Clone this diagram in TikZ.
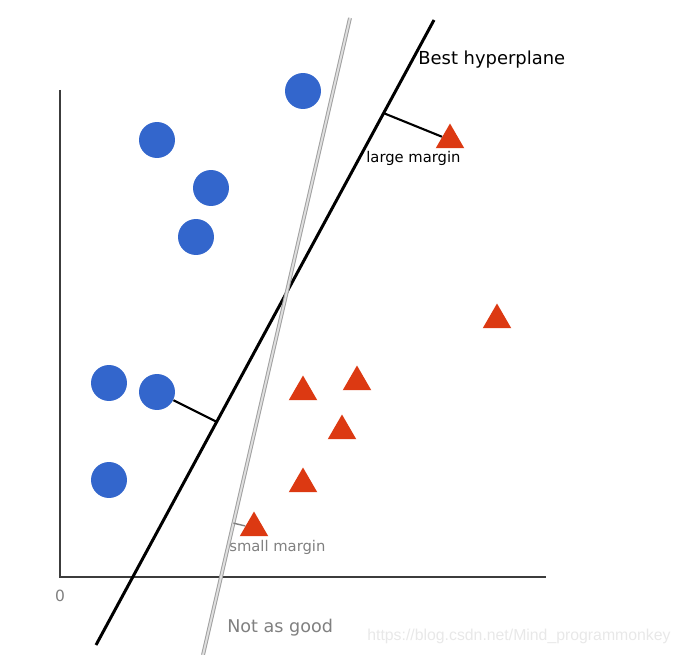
\documentclass[tikz,border=0pt]{standalone}
\usepackage{fontspec}
\setmainfont{DejaVu Sans}
\newfontfamily\wmfont{Liberation Sans}
\usepackage{xcolor}
\usetikzlibrary{shapes.geometric,calc}
\definecolor{ptblue}{HTML}{3366CC}
\definecolor{ptred}{HTML}{DC3912}
\definecolor{axisgray}{RGB}{60, 60, 60}
\definecolor{labelgray}{RGB}{128, 128, 128}

\tikzset{
  bluept/.style={circle, fill=ptblue, minimum size=0.72cm, inner sep=0pt},
  redpt/.style={regular polygon, regular polygon sides=3, fill=ptred, minimum size=0.66cm, inner sep=0pt},
  marginline/.style={line width=1.2pt, black}
}

\begin{document}
\begin{tikzpicture}[x=0.02cm, y=-0.02cm]
            \useasboundingbox (0,0) rectangle (680,655);

            % Axes
            \coordinate (origin) at (60,577);
            \draw[axisgray, line width=0.8pt] (60,90) -- (origin) -- (546,577);
            \node[labelgray, font=\fontsize{8.8}{10}\selectfont] (zero) at (60,596) {0};

            % Hyperplanes
            \coordinate (best1) at (96,645);
            \coordinate (best2) at (434,20);
            \coordinate (weak1) at (203,655);
            \coordinate (weak2) at (350,18);
            \draw[line width=1.7pt, black] (best1) -- (best2);
            \draw[draw=gray!75, double=gray!25, double distance=1.1pt, line width=0.55pt] (weak1) -- (weak2);

            % Blue class
            \node[bluept] (b1) at (303,91) {};
            \node[bluept] (b2) at (157,140) {};
            \node[bluept] (b3) at (211,188) {};
            \node[bluept] (b4) at (196,237) {};
            \node[bluept] (b5) at (109,383) {};
            \node[bluept] (b6) at (157,392) {};
            \node[bluept] (b7) at (109,480) {};

            % Red class
            \node[redpt] (r1) at (450,140) {};
            \node[redpt] (r2) at (497,320) {};
            \node[redpt] (r3) at (303,392) {};
            \node[redpt] (r4) at (357,382) {};
            \node[redpt] (r5) at (342,431) {};
            \node[redpt] (r6) at (303,484) {};
            \node[redpt] (r7) at (254,528) {};

            % Margins
            \coordinate (footb6) at ($(best1)!0.357!(best2)$);
            \coordinate (footr1) at ($(best1)!0.851!(best2)$);
            \coordinate (footr7) at ($(weak1)!0.207!(weak2)$);
            \draw[marginline] (b6) -- (footb6);
            \draw[marginline] (footr1) -- (r1);
            \draw[labelgray, line width=0.8pt] (footr7) -- (r7);

            % Labels
            \node[anchor=west, inner sep=0pt, font=\fontsize{10.2}{12}\selectfont] (bestlbl) at (418,60) {Best hyperplane};
            \node[anchor=west, inner sep=0pt, font=\fontsize{8.4}{10}\selectfont] (largelbl) at (366,158) {large margin};
            \node[anchor=west, inner sep=0pt, labelgray, font=\fontsize{8.4}{10}\selectfont] (smalllbl) at (229,547) {small margin};
            \node[anchor=west, inner sep=0pt, labelgray, font=\fontsize{10}{12}\selectfont] (weaklbl) at (227,628) {Not as good};

            % Watermark
            \node[anchor=west, inner sep=0pt, gray!18, font=\wmfont\fontsize{9}{10}\selectfont] (wm) at (367,636) {https://blog.csdn.net/Mind\_programmonkey};
        \end{tikzpicture}
\end{document}
